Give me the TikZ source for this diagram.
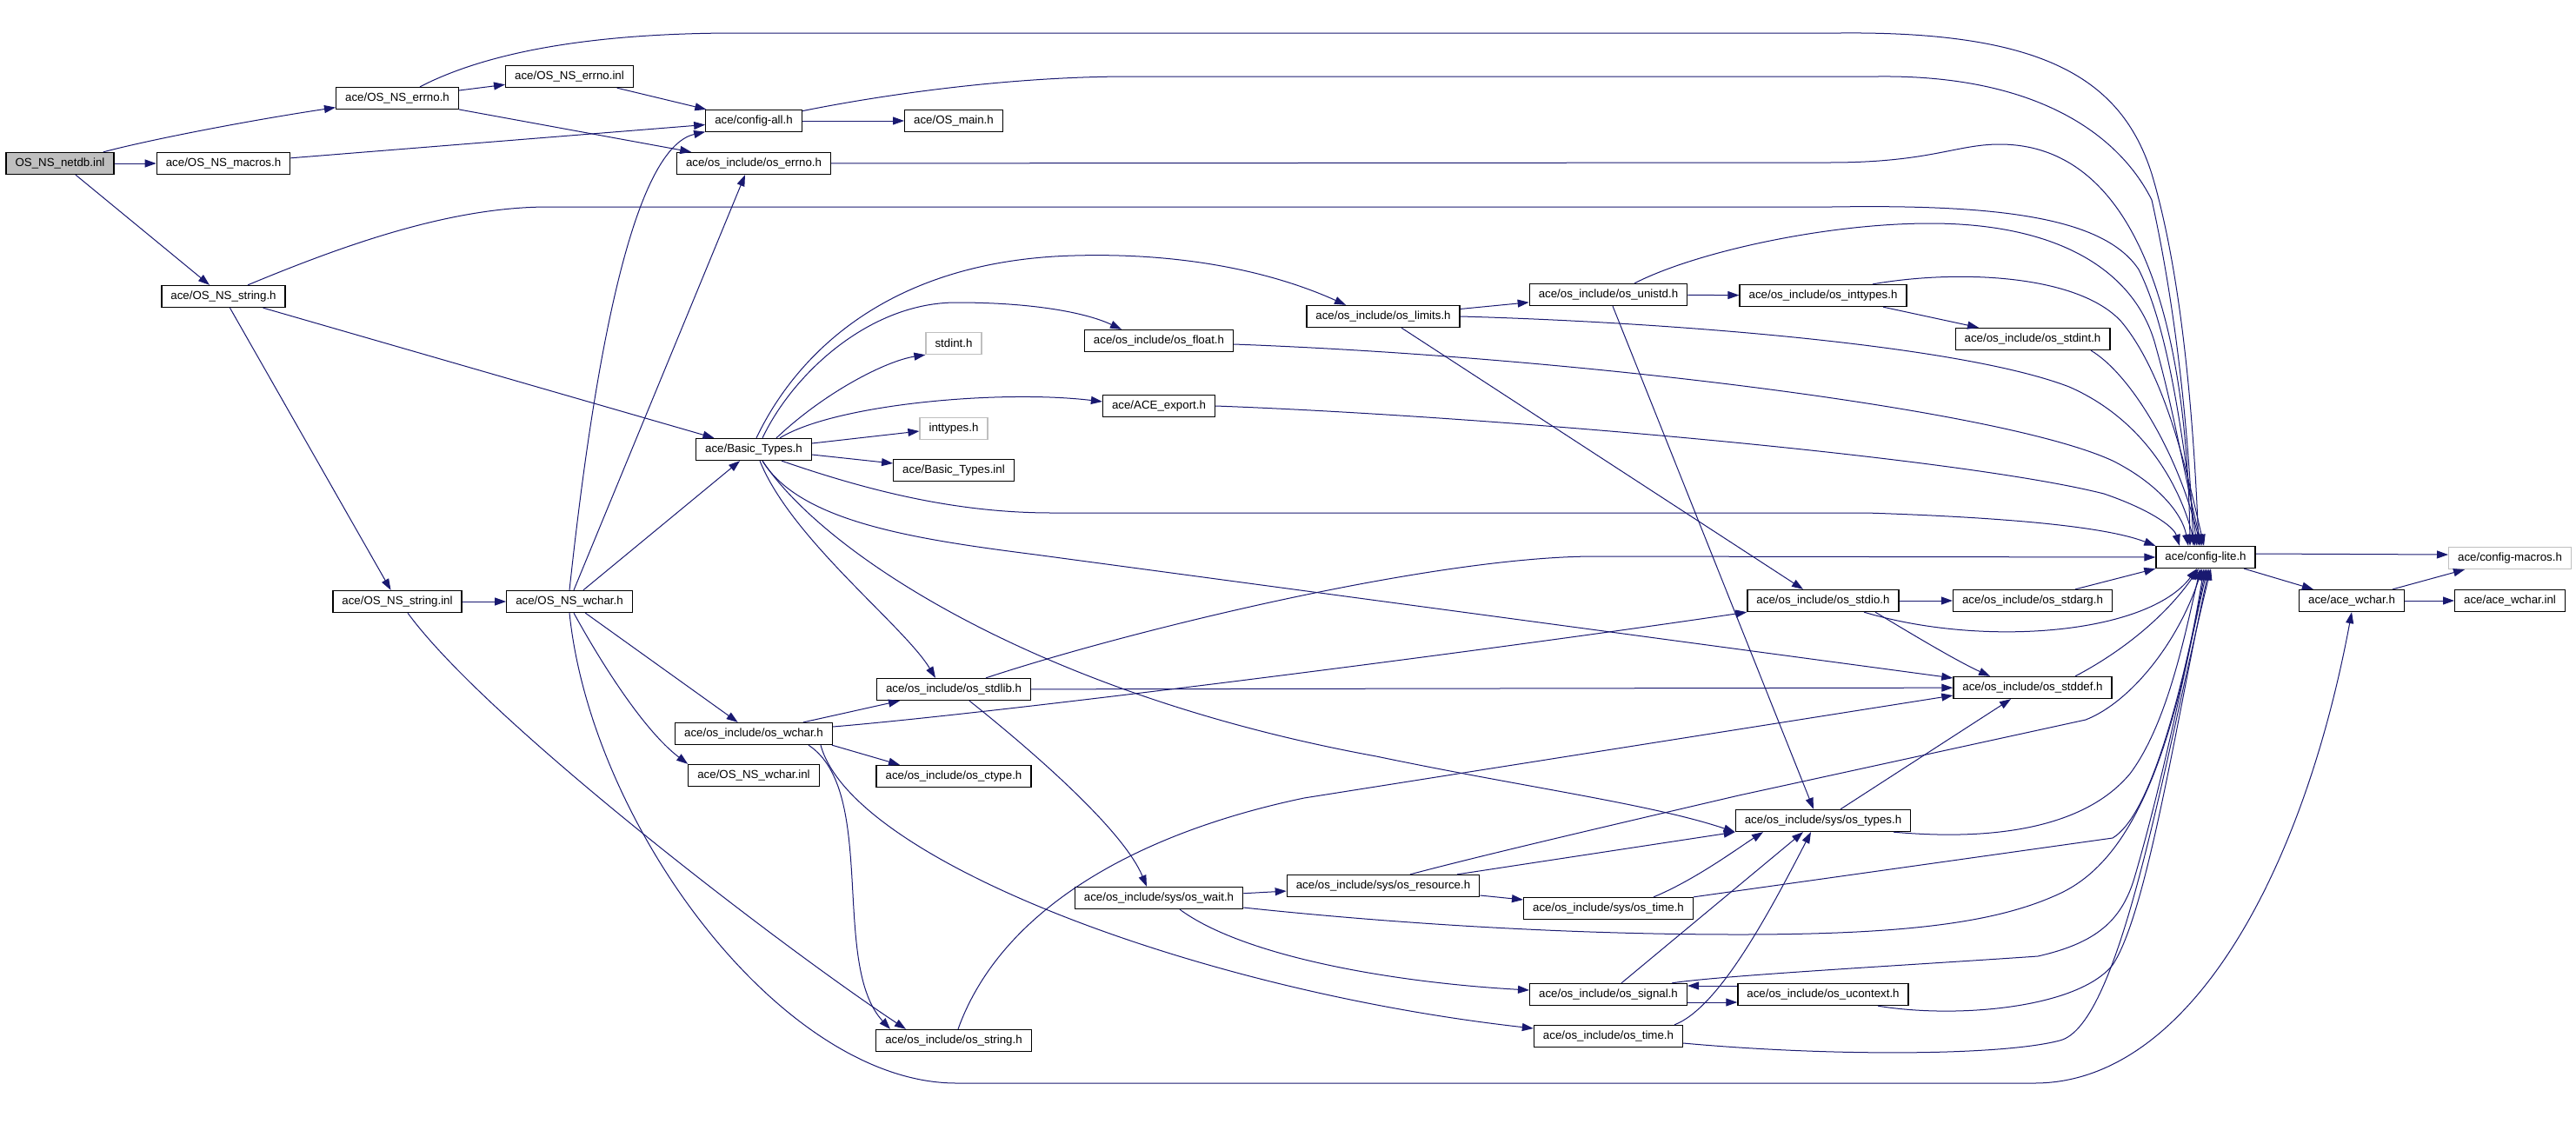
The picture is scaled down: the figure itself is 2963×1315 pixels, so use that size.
\documentclass[tikz,border=0pt]{standalone}
\usepackage{fontspec}
\setmainfont{Liberation Sans}
\usepackage{xcolor}
\usepackage{tikz}
\usetikzlibrary{arrows.meta}
\definecolor{EdgeBlue}{RGB}{25,25,112}
\definecolor{NodeGray}{RGB}{191,191,191}
\tikzset{
    incnode/.style={rectangle, draw=black, fill=white, line width=1.3pt, minimum height=25pt, inner xsep=10.5pt, inner ysep=0pt, font=\fontsize{13.3}{15}\selectfont, text=black}
}

\begin{document}
\begin{tikzpicture}[
                x=1pt, y=-1pt,
                rootnode/.style={incnode, fill=NodeGray},
                extnode/.style={incnode, draw=NodeGray},
                incedge/.style={
                    draw=EdgeBlue,
                    line width=1pt,
                    -{Triangle[length=13pt,width=9pt]}
                }
            ]
                \useasboundingbox (0,0) rectangle (2963,1315);
                % root
                \node[rootnode] (netdb) at (69,188) {OS\_NS\_netdb.inl};
                % rank 1 - 4
                \node[incnode] (macros) at (257,188) {ace/OS\_NS\_macros.h};
                \node[incnode] (stringh) at (257,341) {ace/OS\_NS\_string.h};
                \node[incnode] (errnoh) at (457,113) {ace/OS\_NS\_errno.h};
                \node[incnode] (stringinl) at (457,692) {ace/OS\_NS\_string.inl};
                \node[incnode] (errnoinl) at (655,88) {ace/OS\_NS\_errno.inl};
                \node[incnode] (wcharh) at (655,692) {ace/OS\_NS\_wchar.h};
                \node[incnode] (configall) at (867,139) {ace/config-all.h};
                \node[incnode] (oserrno) at (867,188) {ace/os\_include/os\_errno.h};
                \node[incnode] (basic) at (867,517) {ace/Basic\_Types.h};
                \node[incnode] (oswchar) at (867,844) {ace/os\_include/os\_wchar.h};
                \node[incnode] (wcharinl) at (867,892) {ace/OS\_NS\_wchar.inl};
                % rank 5 - 8
                \node[incnode] (osmain) at (1097,139) {ace/OS\_main.h};
                \node[extnode] (stdinth) at (1097,395) {stdint.h};
                \node[extnode] (inttypesh) at (1097,493) {inttypes.h};
                \node[incnode] (basicinl) at (1097,541) {ace/Basic\_Types.inl};
                \node[incnode] (stdlib) at (1097,793) {ace/os\_include/os\_stdlib.h};
                \node[incnode] (ctype) at (1097,893) {ace/os\_include/os\_ctype.h};
                \node[incnode] (osstring) at (1097,1197) {ace/os\_include/os\_string.h};
                \node[incnode] (float) at (1333,392) {ace/os\_include/os\_float.h};
                \node[incnode] (export) at (1333,467) {ace/ACE\_export.h};
                \node[incnode] (wait) at (1333,1033) {ace/os\_include/sys/os\_wait.h};
                \node[incnode] (limits) at (1591,364) {ace/os\_include/os\_limits.h};
                \node[incnode] (resource) at (1591,1019) {ace/os\_include/sys/os\_resource.h};
                \node[incnode] (unistd) at (1850,339) {ace/os\_include/os\_unistd.h};
                \node[incnode] (systime) at (1850,1045) {ace/os\_include/sys/os\_time.h};
                \node[incnode] (signal) at (1850,1144) {ace/os\_include/os\_signal.h};
                \node[incnode] (ostime) at (1850,1192) {ace/os\_include/os\_time.h};
                % rank 9 - 13
                \node[incnode] (inttypes) at (2097,340) {ace/os\_include/os\_inttypes.h};
                \node[incnode] (stdio) at (2097,691) {ace/os\_include/os\_stdio.h};
                \node[incnode] (types) at (2097,944) {ace/os\_include/sys/os\_types.h};
                \node[incnode] (ucontext) at (2097,1144) {ace/os\_include/os\_ucontext.h};
                \node[incnode] (stdint) at (2338,390) {ace/os\_include/os\_stdint.h};
                \node[incnode] (stdarg) at (2338,691) {ace/os\_include/os\_stdarg.h};
                \node[incnode] (stddef) at (2338,791) {ace/os\_include/os\_stddef.h};
                \node[incnode] (lite) at (2537,641) {ace/config-lite.h};
                \node[incnode] (acewchar) at (2705,691) {ace/ace\_wchar.h};
                \node[extnode] (macrosh) at (2887,642) {ace/config-macros.h};
                \node[incnode] (acewcharinl) at (2887,691) {ace/ace\_wchar.inl};

                % edges from the root
                \draw[incedge] (netdb) .. controls (175,160) and (290,138) .. (errnoh);
                \draw[incedge] (netdb) -- (macros);
                \draw[incedge] ([xshift=18]netdb.south) -- ([xshift=-16]stringh.north);
                % errno and config-all
                \draw[incedge] ([xshift=26]errnoh.north) .. controls (560,60) and (680,38) .. (848,38) -- (2117,38) .. controls (2350,36) and (2440,90) .. (2475,200) .. controls (2505,300) and (2522,450) .. ([xshift=-8]lite.north);
                \draw[incedge] (errnoh) -- (errnoinl);
                \draw[incedge] (errnoh) -- (oserrno);
                \draw[incedge] (errnoinl) -- (configall);
                \draw[incedge] (macros) -- (configall);
                \draw[incedge] (configall) -- (osmain);
                \draw[incedge] (configall) .. controls (1000,112) and (1150,88) .. (1300,88) -- (2160,88) .. controls (2350,86) and (2440,160) .. (2475,230) .. controls (2495,320) and (2515,450) .. ([xshift=-14]lite.north);
                \draw[incedge] (oserrno) -- (2104,187) .. controls (2220,187) and (2250,166) .. (2300,166) .. controls (2450,166) and (2515,350) .. ([xshift=-18]lite.north);
                % string
                \draw[incedge] ([xshift=28]stringh.north) .. controls (400,280) and (520,238) .. (631,238) -- (2107,238) .. controls (2300,235) and (2420,250) .. (2460,310) .. controls (2495,380) and (2510,500) .. ([xshift=-10]lite.north);
                \draw[incedge] (stringh) -- (basic);
                \draw[incedge] (stringh) -- (stringinl);
                \draw[incedge] (stringinl) -- (wcharh);
                \draw[incedge] ([xshift=12]stringinl.south) .. controls (560,830) and (900,1090) .. ([xshift=-55]osstring.north);
                % wchar
                \draw[incedge] (wcharh.north) .. controls (685,400) and (730,170) .. (configall);
                \draw[incedge] ([xshift=5]wcharh.north) -- ([xshift=-10]oserrno.south);
                \draw[incedge] (wcharh) -- (basic);
                \draw[incedge] (wcharh) -- (oswchar);
                \draw[incedge] ([xshift=5]wcharh.south) .. controls (690,760) and (740,840) .. (wcharinl.north west);
                \draw[incedge] (wcharh.south) .. controls (680,950) and (900,1246) .. (1100,1246) -- (2340,1246) .. controls (2520,1246) and (2650,1000) .. (acewchar.south);
                \draw[incedge] ([xshift=63]oswchar.south) .. controls (1010,910) and (955,1110) .. ([xshift=-73]osstring.north);
                \draw[incedge] ([xshift=90]oswchar.south) -- ([xshift=-62]ctype.north);
                \draw[incedge] ([xshift=77]oswchar.south) .. controls (980,990) and (1380,1140) .. ([yshift=9]ostime.west);
                \draw[incedge] ([xshift=57]oswchar.north) -- ([xshift=-62]stdlib.south);
                \draw[incedge] ([yshift=8]oswchar.east) .. controls (1150,820) and (1700,750) .. (stdio.south west);
                % basic types
                \draw[incedge] ([xshift=3]basic.north) .. controls (905,430) and (1000,300) .. (1236,294) .. controls (1380,290) and (1480,320) .. ([xshift=-43]limits.north);
                \draw[incedge] ([xshift=10]basic.north) .. controls (912,430) and (1000,348) .. (1100,348) .. controls (1190,348) and (1250,360) .. ([xshift=-43]float.north);
                \draw[incedge] ([xshift=26]basic.north) .. controls (950,450) and (1020,415) .. (stdinth.south west);
                \draw[incedge] ([xshift=30]basic.north) .. controls (960,465) and (1150,448) .. ([yshift=5]export.west);
                \draw[incedge] ([yshift=7]basic.east) -- ([yshift=-3]inttypesh.west);
                \draw[incedge] ([yshift=-6]basic.east) -- ([yshift=8]basicinl.west);
                \draw[incedge] ([xshift=32]basic.south) .. controls (1000,565) and (1100,590) .. (1210,590) -- (2147,590) .. controls (2300,595) and (2420,605) .. (lite.north west);
                \draw[incedge] ([xshift=10]basic.south) .. controls (920,600) and (1050,620) .. (1191,638) -- ([yshift=11]stddef.west);
                \draw[incedge] ([xshift=10]basic.south) .. controls (950,640) and (1200,800) .. (1583,870) .. controls (1750,905) and (1900,925) .. (types.south west);
                \draw[incedge] ([xshift=7]basic.south) .. controls (910,620) and (1040,720) .. ([xshift=-21]stdlib.north);
                % stdlib, wait, resource
                \draw[incedge] ([xshift=37]stdlib.north) .. controls (1300,725) and (1650,640) .. (1835,640) -- (lite.west);
                \draw[incedge] (stdlib) -- (stddef);
                \draw[incedge] ([xshift=18]stdlib.south) .. controls (1170,850) and (1290,950) .. ([xshift=-14]wait.north);
                \draw[incedge] (wait) -- (resource);
                \draw[incedge] ([yshift=-11]wait.east) .. controls (1600,1062) and (1800,1075) .. (2000,1075) .. controls (2200,1075) and (2300,1060) .. (2369,1028) .. controls (2440,995) and (2495,900) .. ([xshift=-2]lite.south);
                \draw[incedge] ([xshift=24]wait.south) .. controls (1430,1100) and (1600,1130) .. ([yshift=5]signal.west);
                \draw[incedge] ([yshift=-11]resource.east) -- ([yshift=10]systime.west);
                \draw[incedge] ([xshift=31]resource.north) .. controls (1700,985) and (1850,950) .. (2000,915) -- (2399,828) .. controls (2450,808) and (2505,740) .. ([xshift=-4]lite.south);
                \draw[incedge] ([xshift=85]resource.north) -- (types.south west);
                % time and signal
                \draw[incedge] ([xshift=52]systime.north) .. controls (1950,1012) and (2000,975) .. ([xshift=-69]types.south);
                \draw[incedge] (systime.north east) -- (2430,964) .. controls (2470,940) and (2505,820) .. (lite.south);
                \draw[incedge] ([xshift=15]signal.north) -- ([xshift=-23]types.south);
                \draw[incedge] ([yshift=-9]signal.east) -- ([yshift=-9]ucontext.west);
                \draw[incedge] ([yshift=10]ucontext.west) -- ([yshift=10]signal.east);
                \draw[incedge] ([xshift=73]signal.north) .. controls (1980,1122) and (2200,1110) .. (2344,1100) .. controls (2410,1085) and (2440,1060) .. (2455,1010) .. controls (2490,890) and (2515,760) .. ([xshift=2]lite.south);
                \draw[incedge] ([xshift=63]ucontext.south) .. controls (2250,1172) and (2390,1160) .. (2430,1110) .. controls (2470,1050) and (2505,820) .. ([xshift=4]lite.south);
                \draw[incedge] ([xshift=76]ostime.north) .. controls (1975,1160) and (2030,1060) .. ([xshift=-14]types.south);
                \draw[incedge] ([yshift=-8]ostime.east) .. controls (2100,1215) and (2300,1215) .. (2369,1197) .. controls (2440,1180) and (2490,870) .. ([xshift=6]lite.south);
                % limits, unistd
                \draw[incedge] (limits) -- (unistd);
                \draw[incedge] (limits.east) .. controls (1900,370) and (2250,395) .. (2380,445) .. controls (2460,480) and (2505,550) .. ([xshift=-12]lite.north);
                \draw[incedge] ([xshift=21]limits.south) -- ([xshift=-23]stdio.north);
                \draw[incedge] (unistd) -- (inttypes);
                \draw[incedge] ([xshift=5]unistd.south) -- ([xshift=-11]types.north);
                \draw[incedge] ([xshift=30]unistd.north) .. controls (1950,290) and (2100,257) .. (2220,257) .. controls (2380,257) and (2460,320) .. (2480,400) .. controls (2500,470) and (2515,560) .. ([xshift=-4]lite.north);
                \draw[incedge] ([xshift=69]inttypes.south) -- ([xshift=-62]stdint.north);
                \draw[incedge] ([xshift=57]inttypes.north) .. controls (2250,310) and (2390,315) .. (2440,370) .. controls (2490,430) and (2515,540) .. ([xshift=-2]lite.north);
                \draw[incedge] ([xshift=67]stdint.south) .. controls (2450,430) and (2505,520) .. ([xshift=-6]lite.north);
                \draw[incedge] ([yshift=-4]float.east) .. controls (1800,410) and (2300,470) .. (2430,530) .. controls (2480,555) and (2510,590) .. ([xshift=-20]lite.north);
                \draw[incedge] (export.east) .. controls (1700,478) and (2250,525) .. (2420,568) .. controls (2470,585) and (2500,605) .. ([xshift=-30]lite.north);
                % stdio, stddef, types
                \draw[incedge] (stdio) -- (stdarg);
                \draw[incedge] ([xshift=60]stdio.south) .. controls (2200,730) and (2250,760) .. ([xshift=-49]stddef.north);
                \draw[incedge] ([xshift=47]stdio.south) .. controls (2280,745) and (2470,730) .. ([xshift=-10]lite.south);
                \draw[incedge] ([xshift=49]stdarg.north) -- (lite.south west);
                \draw[incedge] ([xshift=49]stddef.north) .. controls (2440,750) and (2490,710) .. ([xshift=-8]lite.south);
                \draw[incedge] ([xshift=20]types.north) -- ([xshift=-25]stddef.south);
                \draw[incedge] ([xshift=81]types.south) .. controls (2300,968) and (2400,950) .. (2450,890) .. controls (2495,830) and (2515,720) .. ([xshift=-6]lite.south);
                \draw[incedge] ([xshift=5]osstring.north) .. controls (1150,1050) and (1300,960) .. (1500,918) -- ([yshift=-9]stddef.west);
                % config-lite
                \draw[incedge] ([yshift=4]lite.east) -- ([yshift=4]macrosh.west);
                \draw[incedge] (lite) -- (acewchar);
                \draw[incedge] ([xshift=47]acewchar.north) -- ([xshift=-52]macrosh.south);
                \draw[incedge] (acewchar) -- (acewcharinl);
            \end{tikzpicture}
\end{document}
